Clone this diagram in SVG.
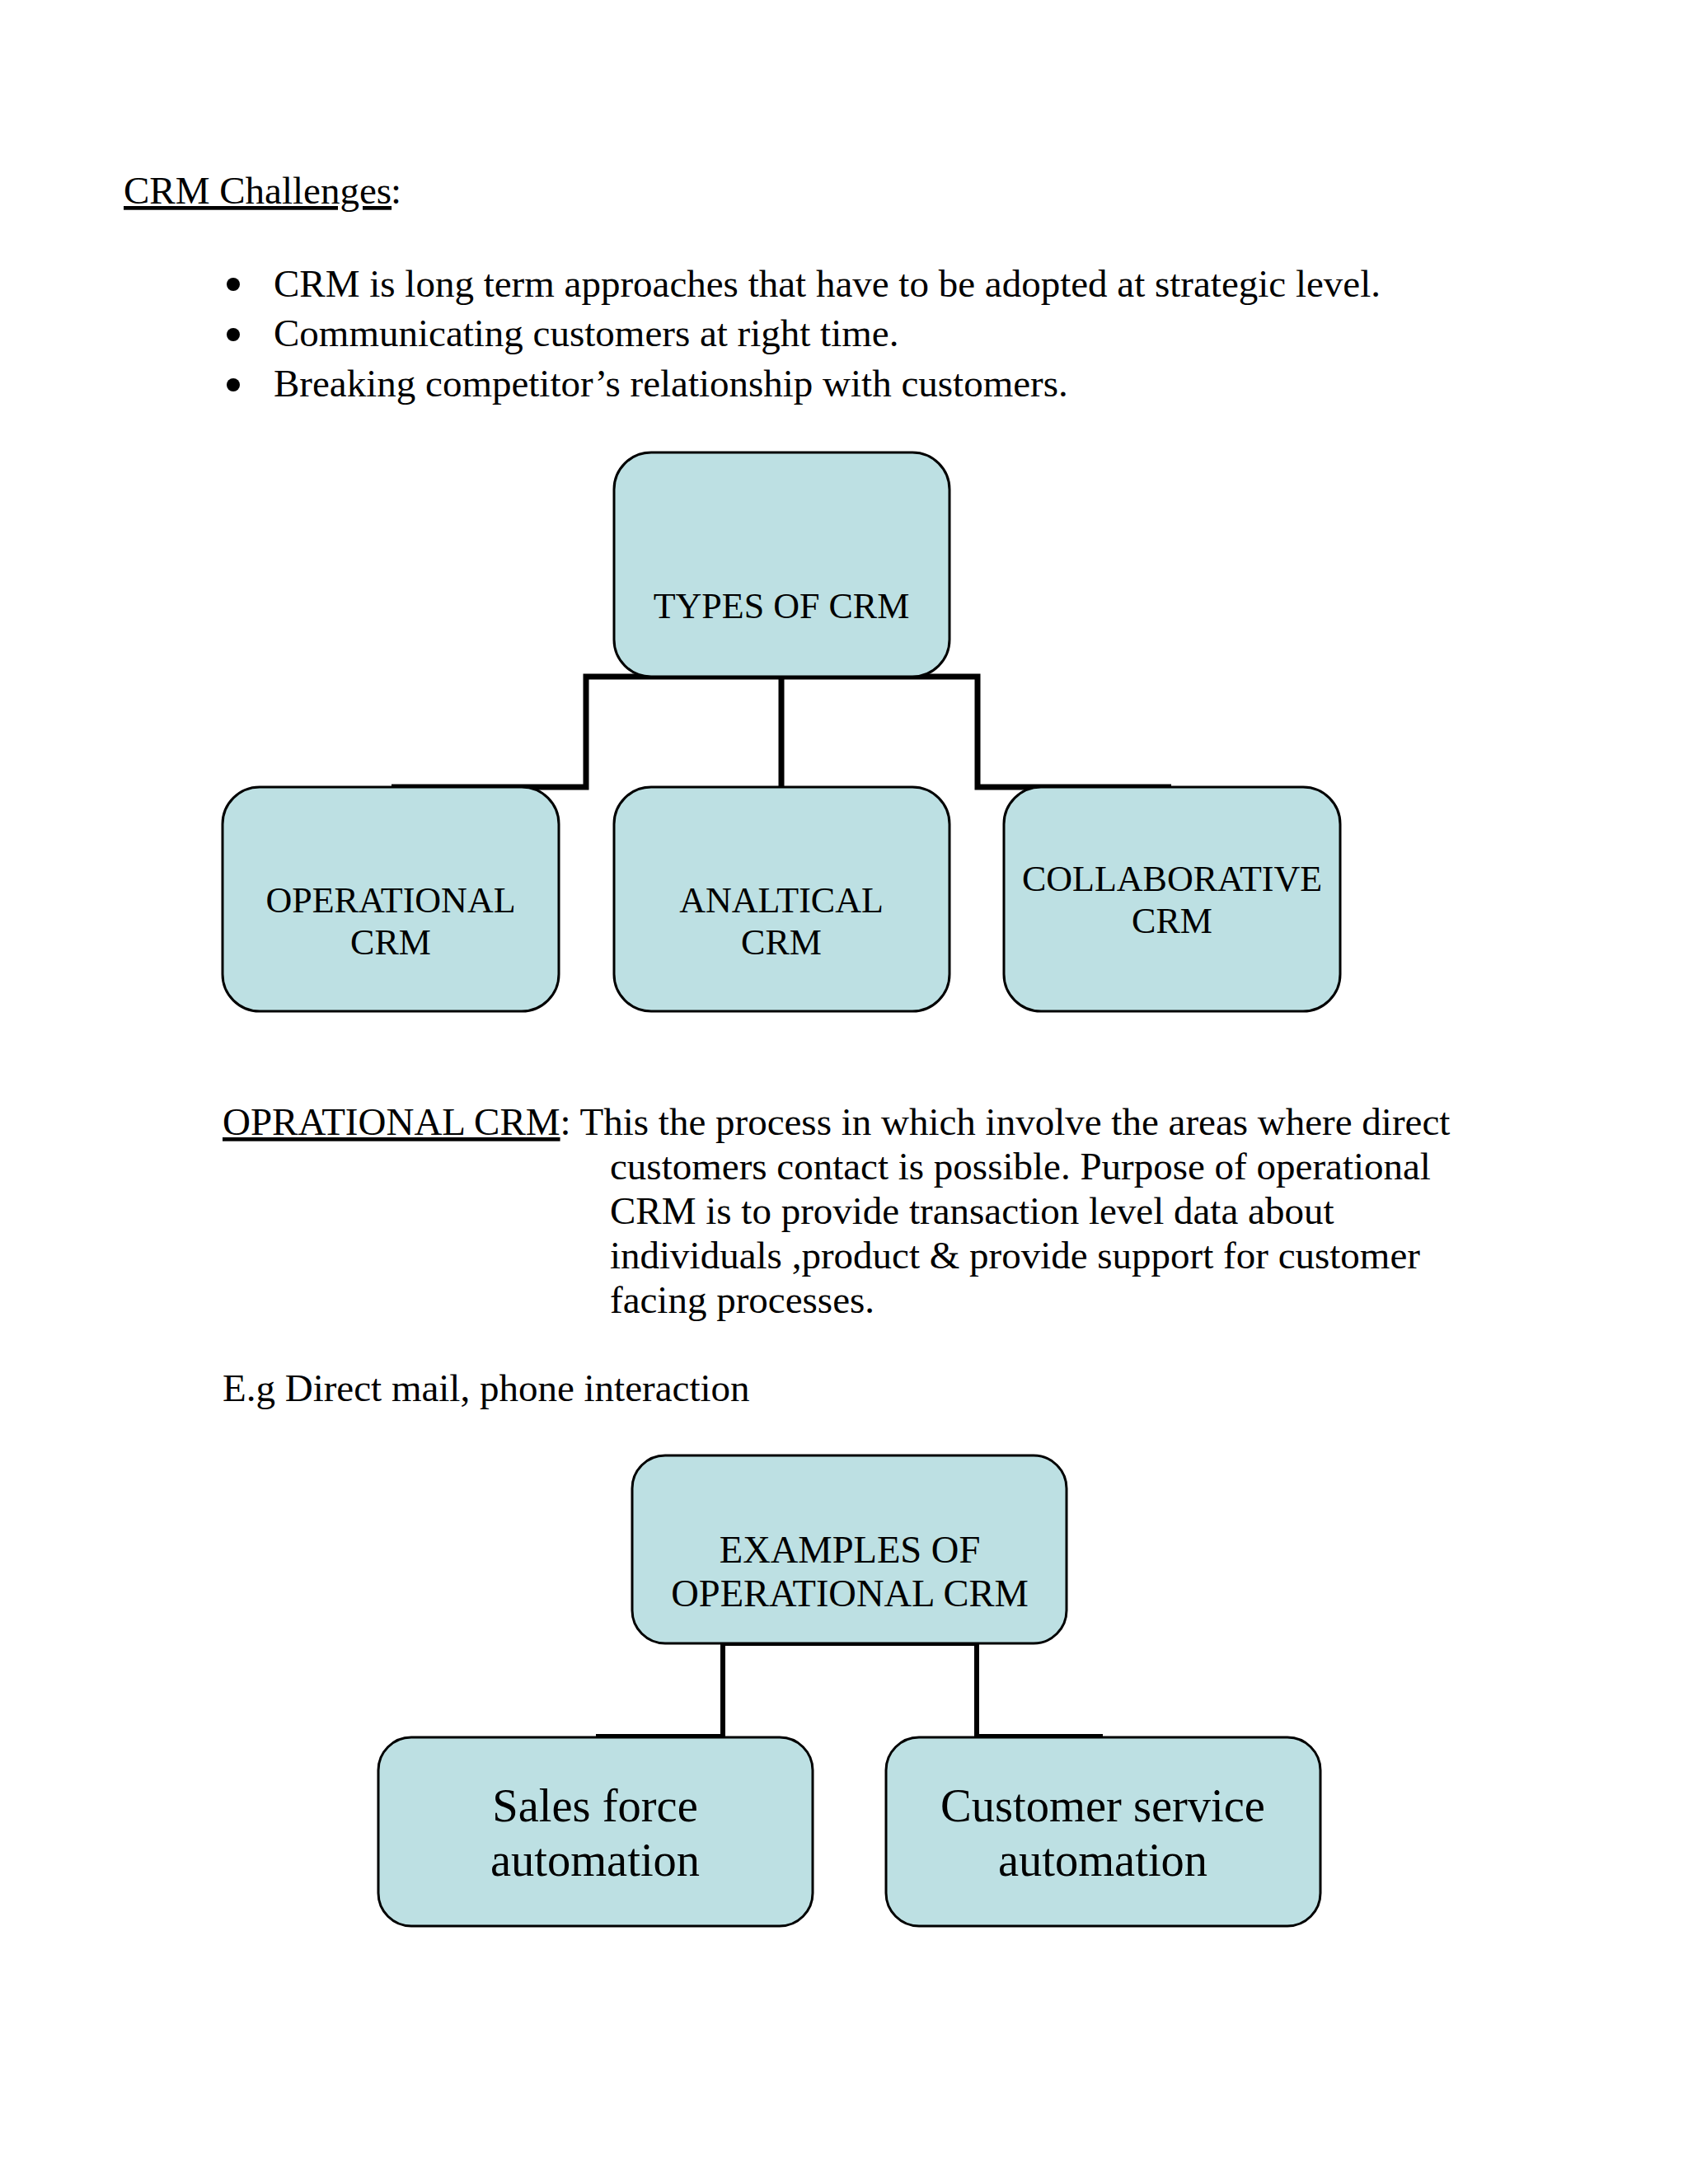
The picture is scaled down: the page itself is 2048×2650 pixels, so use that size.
<svg xmlns="http://www.w3.org/2000/svg" width="2048" height="2650" viewBox="0 0 2048 2650">
<style>
.t{font-family:"Liberation Serif","Times New Roman",serif;fill:#000}
.body{font-size:47px}
.lbl{font-size:44px;text-anchor:middle}
.lbl2{font-size:46.5px;text-anchor:middle}
.lbl3{font-size:56.5px;text-anchor:middle}
.box{fill:#BDE0E3;stroke:#000;stroke-width:3}
.con{fill:none;stroke:#000;stroke-width:7;stroke-linejoin:miter}
.con2{fill:none;stroke:#000;stroke-width:6}
</style>
<rect x="0" y="0" width="2048" height="2650" fill="#FFFFFF"/>
<g id="text">
<text class="t body" x="150" y="247" text-decoration="underline">CRM Challenges</text>
<text class="t body" x="487" y="247" text-anchor="end">:</text>
<circle cx="283" cy="345" r="8"/>
<circle cx="283" cy="406" r="8"/>
<circle cx="283" cy="467" r="8"/>
<text class="t body" x="332" y="360">CRM is long term approaches that have to be adopted at strategic level.</text>
<text class="t body" x="332" y="420">Communicating customers at right time.</text>
<text class="t body" x="332" y="481">Breaking competitor’s relationship with customers.</text>
<text class="t body" x="270" y="1377"><tspan text-decoration="underline">OPRATIONAL CRM</tspan>: This the process in which involve the areas where direct</text>
<text class="t body" x="740" y="1431">customers contact is possible. Purpose of operational</text>
<text class="t body" x="740" y="1485">CRM is to provide transaction level data about</text>
<text class="t body" x="740" y="1539">individuals ,product &amp; provide support for customer</text>
<text class="t body" x="740" y="1593">facing processes.</text>
<text class="t body" x="270" y="1700">E.g Direct mail, phone interaction</text>
</g>
<g id="connectors">
<polyline class="con" points="475,955 711,955 711,821 1186,821 1186,955 1421,955"/>
<line class="con" x1="948" y1="821" x2="948" y2="955"/>
<polyline class="con2" points="723,2107 877,2107 877,1994 1185,1994 1185,2107 1338,2107"/>
</g>
<g id="types">
<rect class="box" x="745" y="549" width="407" height="272" rx="45"/>
<text class="t lbl" x="948" y="750">TYPES OF CRM</text>
</g>
<g id="operational">
<rect class="box" x="270" y="955" width="408" height="272" rx="45"/>
<text class="t lbl" x="474" y="1107">OPERATIONAL</text>
<text class="t lbl" x="474" y="1158">CRM</text>
</g>
<g id="analytical">
<rect class="box" x="745" y="955" width="407" height="272" rx="45"/>
<text class="t lbl" x="948" y="1107">ANALTICAL</text>
<text class="t lbl" x="948" y="1158">CRM</text>
</g>
<g id="collaborative">
<rect class="box" x="1218" y="955" width="408" height="272" rx="45"/>
<text class="t lbl" x="1422" y="1081">COLLABORATIVE</text>
<text class="t lbl" x="1422" y="1132">CRM</text>
</g>
<g id="examples">
<rect class="box" x="767" y="1766" width="527" height="228" rx="40"/>
<text class="t lbl2" x="1031" y="1896">EXAMPLES OF</text>
<text class="t lbl2" x="1031" y="1949">OPERATIONAL CRM</text>
</g>
<g id="sales">
<rect class="box" x="459" y="2108" width="527" height="229" rx="40"/>
<text class="t lbl3" x="722" y="2210">Sales force</text>
<text class="t lbl3" x="722" y="2276">automation</text>
</g>
<g id="customer">
<rect class="box" x="1075" y="2108" width="527" height="229" rx="40"/>
<text class="t lbl3" x="1338" y="2210">Customer service</text>
<text class="t lbl3" x="1338" y="2276">automation</text>
</g>
</svg>
